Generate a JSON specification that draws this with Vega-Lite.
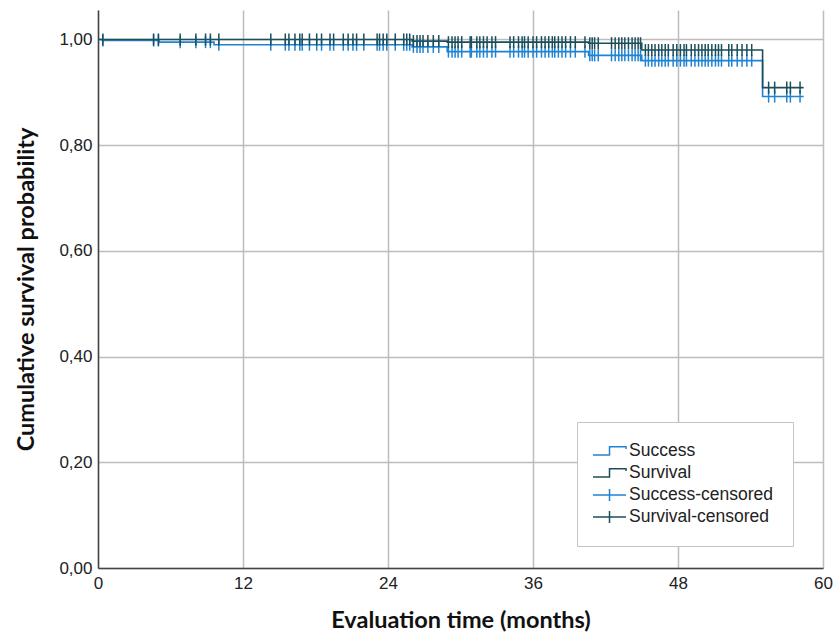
{
  "$schema": "https://vega.github.io/schema/vega-lite/v6.json",
  "width": 725,
  "height": 558,
  "autosize": {"type": "none"},
  "padding": {"left": 98, "top": 10, "right": 14, "bottom": 67},
  "background": "white",
  "config": {
    "view": {"stroke": null},
    "axis": {
      "labelFont": "Liberation Sans",
      "labelFontSize": 17,
      "labelColor": "#222222",
      "titleFont": "Lato",
      "titleFontSize": 23.5,
      "titleFontWeight": "bold",
      "titleColor": "#111111",
      "gridColor": "#bdbdbd",
      "gridWidth": 1.5,
      "gridOpacity": 1,
      "domainColor": "#444444",
      "domainWidth": 1.5,
      "ticks": false
    }
  },
  "datasets": {
    "curves": [
      {"series": "Success", "time": 0, "prob": 1.0},
      {"series": "Success", "time": 0.36, "prob": 0.998},
      {"series": "Success", "time": 5.05, "prob": 0.995},
      {"series": "Success", "time": 9.6, "prob": 0.990},
      {"series": "Success", "time": 26.0, "prob": 0.986},
      {"series": "Success", "time": 28.9, "prob": 0.977},
      {"series": "Success", "time": 40.6, "prob": 0.970},
      {"series": "Success", "time": 45.0, "prob": 0.960},
      {"series": "Success", "time": 55.0, "prob": 0.892},
      {"series": "Success", "time": 58.4, "prob": 0.892},
      {"series": "Survival", "time": 0, "prob": 1.0},
      {"series": "Survival", "time": 26.0, "prob": 0.997},
      {"series": "Survival", "time": 28.9, "prob": 0.995},
      {"series": "Survival", "time": 40.6, "prob": 0.993},
      {"series": "Survival", "time": 45.0, "prob": 0.980},
      {"series": "Survival", "time": 55.0, "prob": 0.909},
      {"series": "Survival", "time": 58.4, "prob": 0.909}
    ],
    "censored": [
      {"time": 0.4, "Success-censored": 0.998, "Survival-censored": 1.0},
      {"time": 4.6, "Success-censored": 0.998, "Survival-censored": 1.0},
      {"time": 5.0, "Success-censored": 0.998, "Survival-censored": 1.0},
      {"time": 6.8, "Success-censored": 0.995, "Survival-censored": 1.0},
      {"time": 8.1, "Success-censored": 0.995, "Survival-censored": 1.0},
      {"time": 8.9, "Success-censored": 0.995, "Survival-censored": 1.0},
      {"time": 9.3, "Success-censored": 0.995, "Survival-censored": 1.0},
      {"time": 10.0, "Success-censored": 0.990, "Survival-censored": 1.0},
      {"time": 14.3, "Success-censored": 0.990, "Survival-censored": 1.0},
      {"time": 15.5, "Success-censored": 0.990, "Survival-censored": 1.0},
      {"time": 15.8, "Success-censored": 0.990, "Survival-censored": 1.0},
      {"time": 16.3, "Success-censored": 0.990, "Survival-censored": 1.0},
      {"time": 16.7, "Success-censored": 0.990, "Survival-censored": 1.0},
      {"time": 16.9, "Success-censored": 0.990, "Survival-censored": 1.0},
      {"time": 17.5, "Success-censored": 0.990, "Survival-censored": 1.0},
      {"time": 18.1, "Success-censored": 0.990, "Survival-censored": 1.0},
      {"time": 18.5, "Success-censored": 0.990, "Survival-censored": 1.0},
      {"time": 19.2, "Success-censored": 0.990, "Survival-censored": 1.0},
      {"time": 19.5, "Success-censored": 0.990, "Survival-censored": 1.0},
      {"time": 20.3, "Success-censored": 0.990, "Survival-censored": 1.0},
      {"time": 20.7, "Success-censored": 0.990, "Survival-censored": 1.0},
      {"time": 21.1, "Success-censored": 0.990, "Survival-censored": 1.0},
      {"time": 21.4, "Success-censored": 0.990, "Survival-censored": 1.0},
      {"time": 22.0, "Success-censored": 0.990, "Survival-censored": 1.0},
      {"time": 23.1, "Success-censored": 0.990, "Survival-censored": 1.0},
      {"time": 23.3, "Success-censored": 0.990, "Survival-censored": 1.0},
      {"time": 23.6, "Success-censored": 0.990, "Survival-censored": 1.0},
      {"time": 23.9, "Success-censored": 0.990, "Survival-censored": 1.0},
      {"time": 24.6, "Success-censored": 0.990, "Survival-censored": 1.0},
      {"time": 25.3, "Success-censored": 0.990, "Survival-censored": 1.0},
      {"time": 25.55, "Success-censored": 0.990, "Survival-censored": 1.0},
      {"time": 25.8, "Success-censored": 0.990, "Survival-censored": 1.0},
      {"time": 26.1, "Success-censored": 0.986, "Survival-censored": 0.997},
      {"time": 26.4, "Success-censored": 0.986, "Survival-censored": 0.997},
      {"time": 26.65, "Success-censored": 0.986, "Survival-censored": 0.997},
      {"time": 26.9, "Success-censored": 0.986, "Survival-censored": 0.997},
      {"time": 27.3, "Success-censored": 0.986, "Survival-censored": 0.997},
      {"time": 27.75, "Success-censored": 0.986, "Survival-censored": 0.997},
      {"time": 28.2, "Success-censored": 0.986, "Survival-censored": 0.997},
      {"time": 29.0, "Success-censored": 0.977, "Survival-censored": 0.995},
      {"time": 29.3, "Success-censored": 0.977, "Survival-censored": 0.995},
      {"time": 29.55, "Success-censored": 0.977, "Survival-censored": 0.995},
      {"time": 29.8, "Success-censored": 0.977, "Survival-censored": 0.995},
      {"time": 30.1, "Success-censored": 0.977, "Survival-censored": 0.995},
      {"time": 30.8, "Success-censored": 0.977, "Survival-censored": 0.995},
      {"time": 30.9, "Success-censored": 0.977, "Survival-censored": 0.995},
      {"time": 31.35, "Success-censored": 0.977, "Survival-censored": 0.995},
      {"time": 31.6, "Success-censored": 0.977, "Survival-censored": 0.995},
      {"time": 31.9, "Success-censored": 0.977, "Survival-censored": 0.995},
      {"time": 32.2, "Success-censored": 0.977, "Survival-censored": 0.995},
      {"time": 32.6, "Success-censored": 0.977, "Survival-censored": 0.995},
      {"time": 32.9, "Success-censored": 0.977, "Survival-censored": 0.995},
      {"time": 34.1, "Success-censored": 0.977, "Survival-censored": 0.995},
      {"time": 34.4, "Success-censored": 0.977, "Survival-censored": 0.995},
      {"time": 34.8, "Success-censored": 0.977, "Survival-censored": 0.995},
      {"time": 35.1, "Success-censored": 0.977, "Survival-censored": 0.995},
      {"time": 35.3, "Success-censored": 0.977, "Survival-censored": 0.995},
      {"time": 35.6, "Success-censored": 0.977, "Survival-censored": 0.995},
      {"time": 36.0, "Success-censored": 0.977, "Survival-censored": 0.995},
      {"time": 36.3, "Success-censored": 0.977, "Survival-censored": 0.995},
      {"time": 36.7, "Success-censored": 0.977, "Survival-censored": 0.995},
      {"time": 37.0, "Success-censored": 0.977, "Survival-censored": 0.995},
      {"time": 37.3, "Success-censored": 0.977, "Survival-censored": 0.995},
      {"time": 37.6, "Success-censored": 0.977, "Survival-censored": 0.995},
      {"time": 37.8, "Success-censored": 0.977, "Survival-censored": 0.995},
      {"time": 38.1, "Success-censored": 0.977, "Survival-censored": 0.995},
      {"time": 38.4, "Success-censored": 0.977, "Survival-censored": 0.995},
      {"time": 38.7, "Success-censored": 0.977, "Survival-censored": 0.995},
      {"time": 39.1, "Success-censored": 0.977, "Survival-censored": 0.995},
      {"time": 39.5, "Success-censored": 0.977, "Survival-censored": 0.995},
      {"time": 40.3, "Success-censored": 0.977, "Survival-censored": 0.995},
      {"time": 40.7, "Success-censored": 0.970, "Survival-censored": 0.993},
      {"time": 40.9, "Success-censored": 0.970, "Survival-censored": 0.993},
      {"time": 41.1, "Success-censored": 0.970, "Survival-censored": 0.993},
      {"time": 41.4, "Success-censored": 0.970, "Survival-censored": 0.993},
      {"time": 42.5, "Success-censored": 0.970, "Survival-censored": 0.993},
      {"time": 42.8, "Success-censored": 0.970, "Survival-censored": 0.993},
      {"time": 43.1, "Success-censored": 0.970, "Survival-censored": 0.993},
      {"time": 43.35, "Success-censored": 0.970, "Survival-censored": 0.993},
      {"time": 43.6, "Success-censored": 0.970, "Survival-censored": 0.993},
      {"time": 43.9, "Success-censored": 0.970, "Survival-censored": 0.993},
      {"time": 44.2, "Success-censored": 0.970, "Survival-censored": 0.993},
      {"time": 44.45, "Success-censored": 0.970, "Survival-censored": 0.993},
      {"time": 44.7, "Success-censored": 0.970, "Survival-censored": 0.993},
      {"time": 44.9, "Success-censored": 0.970, "Survival-censored": 0.993},
      {"time": 45.3, "Success-censored": 0.960, "Survival-censored": 0.980},
      {"time": 45.55, "Success-censored": 0.960, "Survival-censored": 0.980},
      {"time": 45.83, "Success-censored": 0.960, "Survival-censored": 0.980},
      {"time": 46.1, "Success-censored": 0.960, "Survival-censored": 0.980},
      {"time": 46.4, "Success-censored": 0.960, "Survival-censored": 0.980},
      {"time": 46.66, "Success-censored": 0.960, "Survival-censored": 0.980},
      {"time": 46.94, "Success-censored": 0.960, "Survival-censored": 0.980},
      {"time": 47.2, "Success-censored": 0.960, "Survival-censored": 0.980},
      {"time": 47.6, "Success-censored": 0.960, "Survival-censored": 0.980},
      {"time": 47.9, "Success-censored": 0.960, "Survival-censored": 0.980},
      {"time": 48.2, "Success-censored": 0.960, "Survival-censored": 0.980},
      {"time": 48.5, "Success-censored": 0.960, "Survival-censored": 0.980},
      {"time": 48.7, "Success-censored": 0.960, "Survival-censored": 0.980},
      {"time": 49.1, "Success-censored": 0.960, "Survival-censored": 0.980},
      {"time": 49.4, "Success-censored": 0.960, "Survival-censored": 0.980},
      {"time": 49.7, "Success-censored": 0.960, "Survival-censored": 0.980},
      {"time": 49.98, "Success-censored": 0.960, "Survival-censored": 0.980},
      {"time": 50.25, "Success-censored": 0.960, "Survival-censored": 0.980},
      {"time": 50.5, "Success-censored": 0.960, "Survival-censored": 0.980},
      {"time": 50.8, "Success-censored": 0.960, "Survival-censored": 0.980},
      {"time": 51.1, "Success-censored": 0.960, "Survival-censored": 0.980},
      {"time": 51.35, "Success-censored": 0.960, "Survival-censored": 0.980},
      {"time": 51.6, "Success-censored": 0.960, "Survival-censored": 0.980},
      {"time": 52.2, "Success-censored": 0.960, "Survival-censored": 0.980},
      {"time": 52.45, "Success-censored": 0.960, "Survival-censored": 0.980},
      {"time": 52.9, "Success-censored": 0.960, "Survival-censored": 0.980},
      {"time": 53.3, "Success-censored": 0.960, "Survival-censored": 0.980},
      {"time": 53.7, "Success-censored": 0.960, "Survival-censored": 0.980},
      {"time": 54.1, "Success-censored": 0.960, "Survival-censored": 0.980},
      {"time": 55.5, "Success-censored": 0.892, "Survival-censored": 0.909},
      {"time": 56.0, "Success-censored": 0.892, "Survival-censored": 0.909},
      {"time": 57.0, "Success-censored": 0.892, "Survival-censored": 0.909},
      {"time": 57.3, "Success-censored": 0.892, "Survival-censored": 0.909},
      {"time": 58.1, "Success-censored": 0.892, "Survival-censored": 0.909}
    ]
  },
  "encoding": {
    "x": {
      "field": "time",
      "type": "quantitative",
      "title": "Evaluation time (months)",
      "scale": {"domain": [0, 60], "nice": false, "zero": false},
      "axis": {"values": [0, 12, 24, 36, 48, 60], "labelPadding": 7, "titlePadding": 17, "labelFlush": false}
    },
    "y": {
      "field": "prob",
      "type": "quantitative",
      "title": "Cumulative survival probability",
      "scale": {"domain": [0, 1.0558], "nice": false, "zero": false},
      "axis": {"values": [0, 0.2, 0.4, 0.6, 0.8, 1.0], "labelPadding": 6, "titlePadding": 20,
               "labelExpr": "replace(format(datum.value, '.2f'), '.', ',')"}
    },
    "stroke": {
      "field": "series",
      "type": "nominal",
      "scale": {
        "domain": ["Success", "Survival", "Success-censored", "Survival-censored"],
        "range": ["#1f83d3", "#1b4e5b", "#1f83d3", "#1b4e5b"]
      },
      "legend": {
        "title": null,
        "orient": "none",
        "legendX": 479,
        "legendY": 412,
        "padding": 20,
        "strokeColor": "#c4c4c4",
        "fillColor": "white",
        "labelFont": "Liberation Sans",
        "labelFontSize": 17.5,
        "labelColor": "#222222",
        "symbolSize": 256,
        "symbolStrokeWidth": 1.5,
        "labelOffset": 14,
        "rowPadding": 4,
        "encode": {
          "symbols": {
            "update": {
              "shape": {"signal": "indexof(datum.value, 'censored') >= 0 ? 'M-1.625,0H2.5M0.44,-0.75V0.75' : 'M-1.625,0.5H0.44V-0.54H2.5V-0.25'"},
              "fill": {"value": "transparent"},
              "strokeWidth": {"value": 1.5}
            }
          }
        }
      }
    }
  },
  "layer": [
    {
      "data": {"name": "curves"},
      "mark": {"type": "line", "interpolate": "step-after", "strokeWidth": 1.6}
    },
    {
      "data": {"name": "censored"},
      "transform": [
        {"fold": ["Success-censored", "Survival-censored"], "as": ["series", "prob"]}
      ],
      "mark": {"type": "point", "shape": "M0,-1V1", "size": 144, "filled": false, "strokeWidth": 1.5, "opacity": 1}
    }
  ]
}
